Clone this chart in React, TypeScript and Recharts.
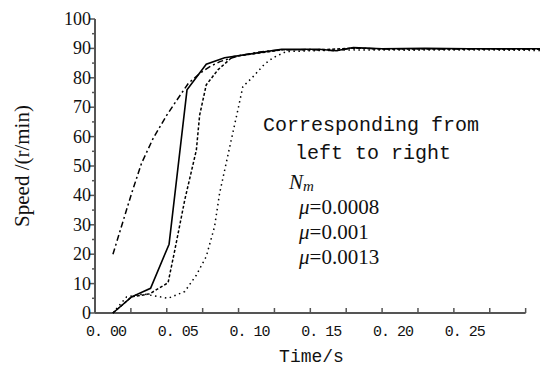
import React from 'react';
import { LineChart, Line, XAxis, YAxis, ReferenceLine, Customized } from 'recharts';

// N_m (dash-dot)
const nmTime = [0.0125, 0.0255, 0.0324, 0.0405, 0.05, 0.057, 0.065, 0.073, 0.08, 0.087, 0.1, 0.115, 0.13, 0.15, 0.168, 0.18, 0.2, 0.22, 0.25, 0.28, 0.31];
const nmSpeed = [20, 40.7, 50.9, 59.4, 67.3, 72.4, 78.1, 81.5, 83.8, 85.5, 87.5, 88.8, 89.5, 89.6, 89.2, 90.2, 89.8, 89.9, 89.8, 89.9, 89.8];

// mu = 0.0008 (solid)
const m1Time = [0.0125, 0.0255, 0.0387, 0.0516, 0.0641, 0.0775, 0.0903, 0.13, 0.156, 0.168, 0.18, 0.2, 0.23, 0.26, 0.31];
const m1Speed = [0, 5.5, 8.4, 23.4, 75.9, 84.6, 86.8, 89.7, 89.7, 89.2, 90.3, 89.9, 90.0, 89.9, 89.9];

// mu = 0.001 (dashed)
const m2Time = [0.0125, 0.0255, 0.038, 0.0509, 0.0556, 0.0625, 0.0706, 0.0729, 0.0775, 0.0856, 0.096, 0.12, 0.13, 0.16, 0.18, 0.2, 0.25, 0.31];
const m2Speed = [0, 5.5, 6.5, 10.3, 21.4, 38.4, 55.4, 67.3, 77.6, 82.7, 87.2, 88.8, 89.5, 89.6, 90.1, 89.8, 89.8, 89.7];

// mu = 0.0013 (dotted)
const m3Time = [0.0125, 0.022, 0.0335, 0.0509, 0.0625, 0.0706, 0.0775, 0.0833, 0.0868, 0.0926, 0.0995, 0.103, 0.109, 0.118, 0.124, 0.133, 0.15, 0.18, 0.22, 0.26, 0.31];
const m3Speed = [0, 5.5, 6.5, 5, 7.3, 12.9, 19.2, 29.4, 40.7, 53.7, 69, 77, 79.8, 84.6, 86.8, 88.9, 89.2, 89.5, 89.4, 89.5, 89.3];

const X_TICKS = [0, 0.025, 0.05, 0.075, 0.1, 0.125, 0.15, 0.175, 0.2, 0.225, 0.25, 0.275, 0.3];
const X_TICK_LABELS = ['0. 00', '', '0. 05', '', '0. 10', '', '0. 15', '', '0. 20', '', '0. 25', '', ''];
const Y_TICKS = [0, 5, 10, 15, 20, 25, 30, 35, 40, 45, 50, 55, 60, 65, 70, 75, 80, 85, 90, 95, 100];
const Y_TICK_LABELS = ['0', '', '10', '', '20', '', '30', '', '40', '', '50', '', '60', '', '70', '', '80', '', '90', '', '100'];

const LEGEND_TITLE = ['Corresponding from', 'left to right'];
const LEGEND_ITEMS = ['=0.0008', '=0.001', '=0.0013'];

const build = (t: number[], v: number[]) => t.map((tt, i) => ({ t: tt, v: v[i] }));

const AXIS = '#555';
const MONO = "'Liberation Mono', 'Courier New', monospace";
const SERIF = "'Liberation Serif', 'Times New Roman', serif";

const XTick = (props: any) => {
  const { x, y, payload } = props;
  const idx = X_TICKS.findIndex((k) => Math.abs(k - payload.value) < 1e-6);
  const label = idx >= 0 ? X_TICK_LABELS[idx] : '';
  return (
    <g>
      <line x1={x} x2={x} y1={y} y2={y - 5} stroke={AXIS} strokeWidth={1.5} />
      {label ? (
        <text x={x - 9} y={y + 19} textAnchor="start" dominantBaseline="central" fontFamily={MONO} fontSize={15} letterSpacing={-1} fill="#111">
          {label}
        </text>
      ) : null}
    </g>
  );
};

const YTick = (props: any) => {
  const { x, y, payload } = props;
  const idx = Y_TICKS.findIndex((k) => Math.abs(k - payload.value) < 1e-6);
  const label = idx >= 0 ? Y_TICK_LABELS[idx] : '';
  const len = label ? 5 : 3;
  return (
    <g>
      <line x1={x - len} x2={x} y1={y} y2={y} stroke={AXIS} strokeWidth={1.5} />
      {label ? (
        <text x={x - 4} y={y} textAnchor="end" dominantBaseline="central" fontFamily={SERIF} fontSize={18} fill="#111">
          {label}
        </text>
      ) : null}
    </g>
  );
};

const YLabel = (props: any) => {
  const vb = props.viewBox || { x: 0, y: 19, width: 95, height: 294 };
  const cx = vb.x + 22;
  const cy = vb.y + vb.height / 2;
  return (
    <text x={cx} y={cy} transform={`rotate(-90 ${cx} ${cy})`} textAnchor="middle" dominantBaseline="central" fontFamily={SERIF} fontSize={21} fill="#111">
      Speed /(r/min)
    </text>
  );
};

const XLabel = (props: any) => {
  const vb = props.viewBox || { x: 95, y: 313, width: 445, height: 56 };
  const cx = vb.x + vb.width / 2 - 6;
  return (
    <text x={cx} y={vb.y + 44} textAnchor="middle" dominantBaseline="central" fontFamily={MONO} fontSize={18} fill="#111">
      Time/s
    </text>
  );
};

const Annotations = () => (
  <g fill="#111">
    <text x={263} y={125} dominantBaseline="central" fontFamily={MONO} fontSize={20}>{LEGEND_TITLE[0]}</text>
    <text x={295} y={153} dominantBaseline="central" fontFamily={MONO} fontSize={20}>{LEGEND_TITLE[1]}</text>
    <text x={289} y={182} dominantBaseline="central" fontFamily={SERIF} fontStyle="italic" fontSize={21}>
      N<tspan fontSize={15} dy={4}>m</tspan>
    </text>
    {LEGEND_ITEMS.map((s, i) => (
      <text key={s} x={299} y={207 + i * 25} dominantBaseline="central" fontFamily={SERIF} fontSize={21}>
        <tspan fontStyle="italic">μ</tspan>
        <tspan>{s}</tspan>
      </text>
    ))}
  </g>
);

export default function App() {
  return (
    <div style={{ position: 'absolute', left: 0, top: 0, width: 540, height: 369, background: '#fff' }}>
      <LineChart width={540} height={369} margin={{ top: 19, right: 0, bottom: 0, left: 0 }}>
        <XAxis
          type="number"
          dataKey="t"
          domain={[0, 0.31]}
          allowDataOverflow
          ticks={X_TICKS}
          interval={0}
          tickSize={0}
          tickMargin={0}
          tickLine={false}
          axisLine={false}
          tick={<XTick />}
          height={56}
          label={<XLabel />}
        />
        <YAxis
          type="number"
          domain={[0, 100]}
          ticks={Y_TICKS}
          interval={0}
          tickSize={0}
          tickMargin={0}
          tickLine={false}
          axisLine={{ stroke: AXIS, strokeWidth: 2 }}
          tick={<YTick />}
          width={95}
          label={<YLabel />}
        />
        <ReferenceLine segment={[{ x: 0, y: 0 }, { x: 0.3, y: 0 }]} stroke={AXIS} strokeWidth={2} ifOverflow="visible" />
        <Line data={build(nmTime, nmSpeed)} dataKey="v" stroke="#000" strokeWidth={1.5} strokeDasharray="6 3 2 3" dot={false} isAnimationActive={false} />
        <Line data={build(m3Time, m3Speed)} dataKey="v" stroke="#000" strokeWidth={1.5} strokeDasharray="1.5 3.5" dot={false} isAnimationActive={false} />
        <Line data={build(m2Time, m2Speed)} dataKey="v" stroke="#000" strokeWidth={1.5} strokeDasharray="3 2" dot={false} isAnimationActive={false} />
        <Line data={build(m1Time, m1Speed)} dataKey="v" stroke="#000" strokeWidth={1.6} dot={false} isAnimationActive={false} />
        <Customized component={Annotations} />
      </LineChart>
    </div>
  );
}
